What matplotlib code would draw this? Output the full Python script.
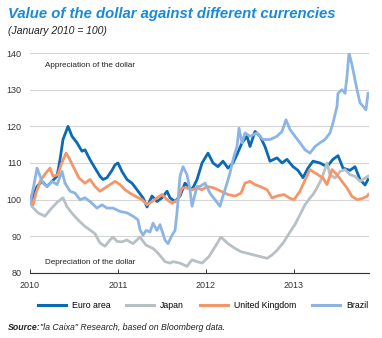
import numpy as np
import matplotlib
matplotlib.use('Agg')
import matplotlib.pyplot as plt

# dates as decimal years after Jan 2010 (Jan 2010 = 100)
euro_t = [0.0, 0.08, 0.136, 0.193, 0.25, 0.307, 0.341, 0.375, 0.432, 0.477, 0.534, 0.591,
          0.625, 0.682, 0.739, 0.795, 0.83, 0.875, 0.932, 0.966, 1.0, 1.045, 1.102, 1.159,
          1.216, 1.284, 1.33, 1.386, 1.443, 1.5, 1.557, 1.591, 1.648, 1.705, 1.761, 1.841,
          1.898, 1.955, 2.023, 2.08, 2.136, 2.193, 2.25, 2.307, 2.352, 2.409, 2.466, 2.5,
          2.557, 2.614, 2.67, 2.727, 2.807, 2.864, 2.92, 2.989, 3.045, 3.102, 3.159, 3.216,
          3.295, 3.375, 3.443, 3.5, 3.557, 3.636, 3.693, 3.75, 3.807, 3.841]
euro_v = [99, 103.6, 105, 103.6, 105, 106.4, 110.9, 116.4, 120, 117.3, 115.5, 113.2,
          113.6, 110.9, 108.6, 106.4, 105.5, 106, 108, 109.5, 110, 107.7, 105.5, 104.5,
          102.7, 100.5, 98, 101, 99.5, 100.5, 102.3, 100.5, 99.5, 101, 104.5, 102.7,
          105.5, 110, 112.7, 110, 109, 110.5, 108.6, 110, 112.3, 115.5, 117.3, 114.5,
          118.6, 117.3, 114.5, 110.5, 111.4, 110, 111, 109, 108, 106, 108.6, 110.5,
          110, 109, 111, 112, 108.6, 108, 109, 105.5, 104, 105.5]

japan_t = [0.0, 0.02, 0.091, 0.17, 0.246, 0.318, 0.375, 0.417, 0.474, 0.545, 0.625, 0.7,
           0.739, 0.795, 0.852, 0.909, 0.943, 0.99, 1.045, 1.102, 1.17, 1.25, 1.318, 1.398,
           1.455, 1.534, 1.591, 1.625, 1.705, 1.784, 1.841, 1.898, 1.955, 2.034, 2.102, 2.17,
           2.25, 2.33, 2.398, 2.466, 2.545, 2.614, 2.693, 2.75, 2.807, 2.886, 2.955, 3.011,
           3.068, 3.125, 3.182, 3.216, 3.261, 3.318, 3.375, 3.409, 3.466, 3.523, 3.58, 3.636,
           3.693, 3.75, 3.807, 3.841]
japan_v = [99.5, 98.2, 96.4, 95.5, 97.7, 99.5, 100.5, 98.2, 96.4, 94.5, 92.7, 91.4,
           90.7, 88.2, 87.3, 89, 89.8, 88.6, 88.5, 89, 88, 89.8, 87.6, 86.7,
           85.4, 83.1, 82.7, 83.1, 82.7, 81.8, 83.6, 83.1, 82.7, 84.5, 87.1, 89.8,
           88, 86.7, 85.8, 85.4, 84.9, 84.5, 84, 84.9, 86.2, 88.5, 91.2, 93.2,
           95.9, 98.6, 100.5, 101.4, 103.2, 105.9, 110, 106.8, 105.9, 107.7, 108.2, 106.8,
           106.4, 105, 105.9, 106.4]

uk_t = [0.0, 0.034, 0.068, 0.125, 0.182, 0.227, 0.261, 0.318, 0.352, 0.409, 0.443, 0.5,
        0.557, 0.625, 0.682, 0.739, 0.795, 0.852, 0.909, 0.966, 1.023, 1.08, 1.136, 1.193,
        1.273, 1.33, 1.386, 1.443, 1.5, 1.557, 1.614, 1.682, 1.727, 1.784, 1.841, 1.898,
        1.955, 2.011, 2.091, 2.17, 2.25, 2.33, 2.398, 2.443, 2.5, 2.557, 2.614, 2.693,
        2.75, 2.807, 2.886, 2.943, 3.0, 3.068, 3.136, 3.182, 3.239, 3.33, 3.375, 3.432,
        3.489, 3.545, 3.602, 3.659, 3.716, 3.773, 3.83, 3.845]
uk_v = [101, 98.6, 101.8, 105.5, 107.3, 108.6, 106.4, 106.8, 109.5, 112.7, 111.4, 108.6,
        105.9, 104.5, 105.5, 103.6, 102.3, 103.2, 104.1, 105, 104.1, 102.7, 101.8, 101,
        100, 98.6, 99.5, 100.5, 101.4, 100, 99, 100, 103.2, 103.2, 102.7, 103.2,
        102.7, 103.6, 103.2, 102.3, 101.4, 101, 101.8, 104.5, 105, 104.1, 103.6, 102.7,
        100.5, 101, 101.4, 100.5, 100, 102.3, 105.9, 108.2, 107.3, 105.9, 104.1, 108.2,
        106.8, 105, 103.2, 100.9, 100, 100.3, 100.9, 101.4]

brazil_t = [0.0, 0.034, 0.08, 0.114, 0.148, 0.193, 0.25, 0.307, 0.364, 0.398, 0.455, 0.511,
            0.568, 0.625, 0.682, 0.761, 0.818, 0.875, 0.943, 1.023, 1.102, 1.17, 1.227, 1.25,
            1.284, 1.318, 1.364, 1.398, 1.443, 1.477, 1.534, 1.568, 1.614, 1.648, 1.67, 1.705,
            1.739, 1.784, 1.818, 1.841, 1.898, 1.932, 1.989, 2.045, 2.102, 2.159, 2.193, 2.239,
            2.273, 2.307, 2.352, 2.375, 2.409, 2.443, 2.5, 2.58, 2.648, 2.727, 2.807, 2.864,
            2.909, 2.955, 3.011, 3.068, 3.125, 3.182, 3.239, 3.295, 3.352, 3.409, 3.443, 3.489,
            3.5, 3.545, 3.58, 3.602, 3.625, 3.659, 3.693, 3.716, 3.75, 3.784, 3.818, 3.841]
brazil_v = [99, 102.7, 108.6, 106.4, 104.5, 103.6, 105, 104.1, 107.7, 104.5, 102.3, 101.8,
            100, 100.5, 99.5, 97.7, 98.6, 97.7, 97.7, 96.8, 96.4, 95.5, 94.5, 91.8,
            90.3, 91.6, 91.2, 93.6, 91.6, 93.2, 89, 88, 90.3, 91.6, 96.4, 106.4,
            109, 106.8, 102.7, 98.2, 103.6, 103.6, 104.5, 101.8, 100, 98.2, 101, 104.5,
            107.3, 110.9, 114.5, 119.5, 115.5, 118.2, 117.3, 118.2, 116.4, 116.4, 117.3, 118.6,
            121.8, 119.1, 117.3, 115.5, 113.6, 112.7, 114.5, 115.5, 116.4, 118.2, 120.9, 125.5,
            129, 130, 129, 133.6, 140, 136.8, 132.7, 130, 126.4, 125.5, 124.5, 129]

series = [
    ('Euro area', euro_t, euro_v, '#0a6ab3'),
    ('Japan', japan_t, japan_v, '#b7c0c5'),
    ('United Kingdom', uk_t, uk_v, '#f5956a'),
    ('Brazil', brazil_t, brazil_v, '#8db5e3'),
]

years = [2010, 2011, 2012, 2013]
yticks = [80, 90, 100, 110, 120, 130, 140]

plt.rcParams['font.family'] = ['Liberation Sans', 'DejaVu Sans']

fig = plt.figure(figsize=(3.82, 3.38), dpi=100)
W, H = 382, 338
ax = fig.add_axes([30 / W, 1 - 273 / H, 339 / W, 220 / H])

for name, t, v, c in series:
    ax.plot(2010 + np.array(t), v, color=c, lw=2.0, label=name, solid_joinstyle='round')

ax.set_xlim(2010, 2010 + 339 / 88)
ax.set_ylim(80, 140)
ax.set_yticks(yticks)
ax.set_xticks(years)
ax.set_xticklabels([str(y) for y in years], fontsize=6.5, color='#333333')
ax.set_yticklabels([str(y) for y in yticks], fontsize=6.5, color='#333333')
ax.grid(axis='y', color='#d5d5d5', lw=0.8)
ax.set_axisbelow(True)
for s in ['top', 'right', 'left']:
    ax.spines[s].set_visible(False)
ax.spines['bottom'].set_color('#333333')
ax.spines['bottom'].set_linewidth(0.8)
ax.tick_params(axis='y', length=0, pad=6)
ax.tick_params(axis='x', direction='in', length=3, width=0.7, color='#333333', pad=6)

ax.text(2010 + 15 / 88, 136.5, 'Appreciation of the dollar', fontsize=5.9, color='#222222', va='center')
ax.text(2010 + 15 / 88, 82.8, 'Depreciation of the dollar', fontsize=5.9, color='#222222', va='center')

fig.text(8 / W, 1 - 14 / H, 'Value of the dollar against different currencies', fontsize=10.7,
         fontweight='bold', fontstyle='italic', color='#1a8ad4', va='center')
fig.text(8 / W, 1 - 31 / H, '(January 2010 = 100)', fontsize=7.5, fontstyle='italic',
         color='#222222', va='center')

leg = fig.legend(loc='center', bbox_to_anchor=(203 / W, 1 - 306 / H), ncol=4, frameon=False,
                 fontsize=6.3, handlelength=3.2, columnspacing=1.8, handletextpad=0.7)
for line in leg.get_lines():
    line.set_linewidth(2.2)

fig.text(8 / W, 1 - 327 / H, 'Source:', fontsize=6.3, fontweight='bold', fontstyle='italic',
         color='#222222', va='center')
fig.text(40 / W, 1 - 327 / H, '"la Caixa" Research, based on Bloomberg data.', fontsize=6.3,
         fontstyle='italic', color='#222222', va='center')

fig.savefig('out.png', dpi=100)
